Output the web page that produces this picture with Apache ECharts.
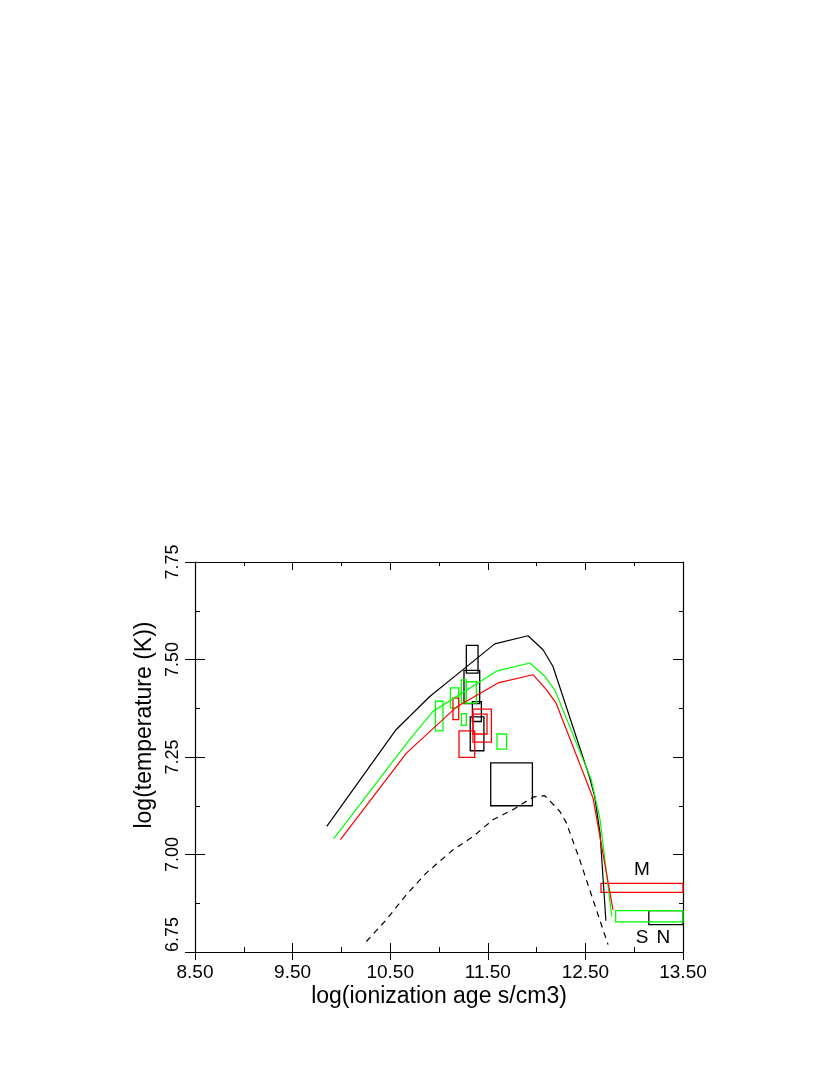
<!DOCTYPE html>
<html>
<head>
<meta charset="utf-8">
<script src="https://cdn.jsdelivr.net/npm/echarts@6/dist/echarts.min.js"></script>
<style>
  html, body { margin: 0; padding: 0; background: #fff; }
  #main { width: 830px; height: 1075px; }
</style>
</head>
<body>
<div id="main"></div>
<script>
// model curves: [log age, log T]
var blackCurve = [[9.85, 7.072], [10.56, 7.32], [10.905, 7.405], [11.246, 7.474], [11.571, 7.54], [11.912, 7.561], [12.066, 7.525], [12.168, 7.482], [12.54, 7.20], [12.595, 7.149], [12.65, 7.055], [12.71, 6.83]]
var greenCurve = [[9.92, 7.04], [10.70, 7.295], [10.939, 7.367], [11.588, 7.47], [11.93, 7.491], [12.083, 7.457], [12.185, 7.423], [12.56, 7.192], [12.65, 7.09], [12.77, 6.841]]
var redCurve = [[9.99, 7.038], [10.666, 7.26], [11.178, 7.378], [11.605, 7.44], [11.963, 7.461], [12.1, 7.423], [12.2, 7.388], [12.578, 7.145], [12.783, 6.858]]
var dashedCurve = [[10.256, 6.777], [10.461, 6.833], [10.666, 6.897], [10.871, 6.953], [11.143, 7.012], [11.348, 7.046], [11.553, 7.089], [11.758, 7.115], [11.963, 7.147], [12.083, 7.151], [12.237, 7.111], [12.305, 7.081], [12.441, 6.987], [12.578, 6.884], [12.732, 6.769]]

// measurement boxes: [x1, x2, y1, y2]
var blackBoxes = [[11.28, 11.40, 7.465, 7.536], [11.256, 11.417, 7.387, 7.472], [11.342, 11.434, 7.341, 7.392], [11.32, 11.46, 7.266, 7.353], [11.53, 11.957, 7.125, 7.235], [13.15, 13.5, 6.82, 6.856]]
var greenBoxes = [[10.963, 11.041, 7.317, 7.393], [11.117, 11.202, 7.376, 7.427], [11.229, 11.28, 7.388, 7.448], [11.28, 11.383, 7.388, 7.443], [11.229, 11.28, 7.331, 7.361], [11.594, 11.693, 7.27, 7.309], [12.81, 13.5, 6.827, 6.856]]
var redBoxes = [[11.143, 11.202, 7.346, 7.401], [11.205, 11.366, 7.249, 7.317], [11.348, 11.537, 7.288, 7.373], [11.348, 11.492, 7.309, 7.36], [12.66, 13.5, 6.903, 6.926]]

var textMarks = [[13.08, 6.962, 'M'], [13.08, 6.786, 'S'], [13.3, 6.786, 'N']]

var xMin = 8.5, xMax = 13.5, xStep = 1
var yMin = 6.75, yMax = 7.75, yStep = 0.25

var font = "'Liberation Sans', Arial, sans-serif"

function boxSeries (data, color) {
  return {
    type: 'custom',
    data: data,
    encode: { x: [0, 1], y: [2, 3] },
    clip: false,
    silent: true,
    renderItem: function (params, api) {
      var p1 = api.coord([api.value(0), api.value(3)])
      var p2 = api.coord([api.value(1), api.value(2)])
      return {
        type: 'rect',
        shape: { x: p1[0], y: p1[1], width: p2[0] - p1[0], height: p2[1] - p1[1] },
        style: { fill: 'none', stroke: color, lineWidth: 1.3 }
      }
    }
  }
}

function lineSeries (data, color, dashed) {
  return {
    type: 'line',
    data: data,
    symbol: 'none',
    silent: true,
    lineStyle: { color: color, width: 1.2, type: dashed ? [6, 5] : 'solid' }
  }
}

var axisLine = { show: true, lineStyle: { color: '#000', width: 1.2 } }
var tickStyle = { color: '#000', width: 1 }

function xAxisCfg (extra) {
  return Object.assign({
    type: 'value', min: xMin, max: xMax, interval: xStep,
    axisLine: axisLine, splitLine: { show: false },
    axisLabel: { show: false }
  }, extra)
}
function yAxisCfg (extra) {
  return Object.assign({
    type: 'value', min: yMin, max: yMax, interval: yStep,
    axisLine: axisLine, splitLine: { show: false },
    axisLabel: { show: false }
  }, extra)
}

var chart = echarts.init(document.getElementById('main'))
chart.setOption({
  backgroundColor: '#fff',
  animation: false,
  grid: { left: 195, right: 147, top: 562, bottom: 123 },
  xAxis: [
    xAxisCfg({
      position: 'bottom',
      axisTick: { inside: true, length: 9, lineStyle: tickStyle },
      minorTick: { show: true, splitNumber: 2, length: 5, lineStyle: tickStyle },
      axisLabel: {
        show: true, margin: 11, color: '#000', fontSize: 19, fontFamily: font,
        formatter: function (v) { return v.toFixed(2) }
      },
      name: 'log(ionization age s/cm3)',
      nameLocation: 'middle',
      nameGap: 33,
      nameTextStyle: { color: '#000', fontSize: 23, fontFamily: font }
    }),
    xAxisCfg({
      position: 'bottom',
      axisLine: { show: false },
      axisTick: { inside: false, length: 8, lineStyle: tickStyle }
    }),
    xAxisCfg({
      position: 'top',
      axisTick: { inside: true, length: 8, lineStyle: tickStyle },
      minorTick: { show: true, splitNumber: 2, length: 4, lineStyle: tickStyle }
    })
  ],
  yAxis: [
    yAxisCfg({
      position: 'left',
      axisTick: { inside: true, length: 10, lineStyle: tickStyle },
      minorTick: { show: true, splitNumber: 2, length: 5, lineStyle: tickStyle },
      axisLabel: {
        show: true, margin: 13, rotate: 90, color: '#000', fontSize: 18, fontFamily: font,
        alignMinLabel: 'left',
        formatter: function (v) { return v.toFixed(2) }
      },
      name: 'log(temperature (K))',
      nameLocation: 'middle',
      nameGap: 36,
      nameTextStyle: { color: '#000', fontSize: 23, fontFamily: font, padding: [0, 0, 0, 64] }
    }),
    yAxisCfg({
      position: 'left',
      axisLine: { show: false },
      axisTick: { inside: false, length: 10, lineStyle: tickStyle }
    }),
    yAxisCfg({
      position: 'right',
      axisTick: { inside: true, length: 10, lineStyle: tickStyle },
      minorTick: { show: true, splitNumber: 2, length: 4, lineStyle: tickStyle }
    })
  ],
  series: [
    lineSeries(blackCurve, '#000000'),
    lineSeries(greenCurve, '#00ff00'),
    lineSeries(redCurve, '#ff0000'),
    lineSeries(dashedCurve, '#000000', true),
    boxSeries(blackBoxes, '#000000'),
    boxSeries(greenBoxes, '#00ff00'),
    boxSeries(redBoxes, '#ff0000'),
    {
      type: 'scatter',
      data: textMarks,
      symbolSize: 1,
      silent: true,
      itemStyle: { color: 'rgba(0,0,0,0)' },
      label: {
        show: true, position: 'inside', color: '#000', fontSize: 19, fontFamily: font,
        textBorderWidth: 0, opacity: 1,
        formatter: function (p) { return p.data[2] }
      }
    }
  ]
})
</script>
</body>
</html>
